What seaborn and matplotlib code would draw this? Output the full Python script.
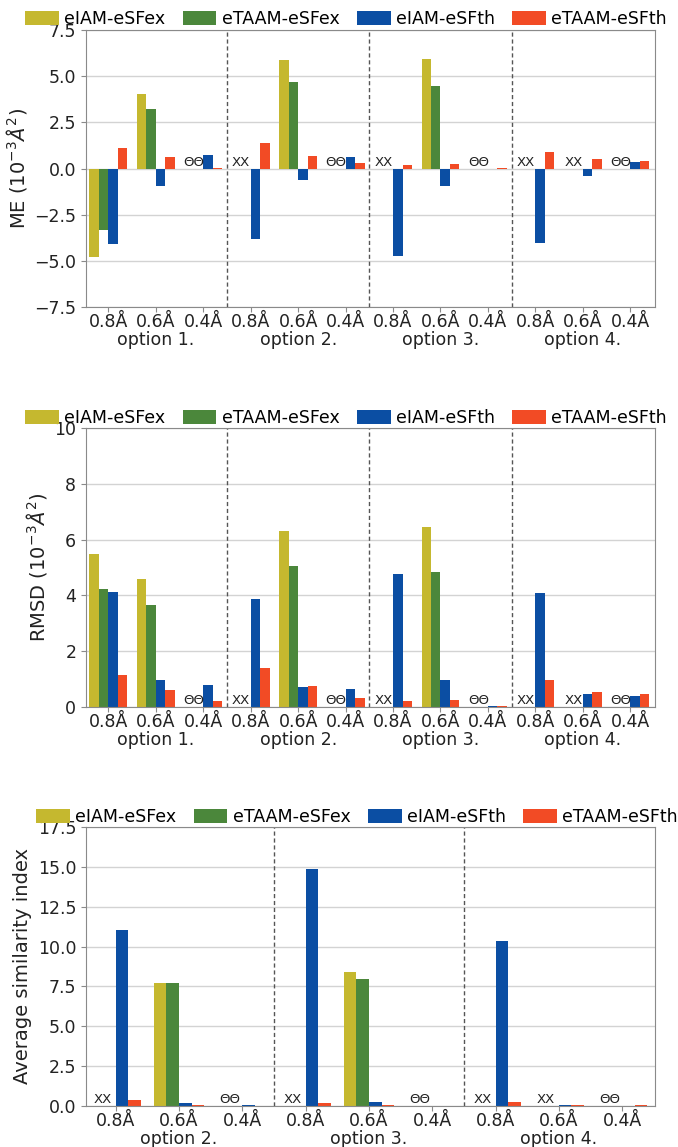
import numpy as np
import pandas as pd
import matplotlib
matplotlib.use("Agg")
import matplotlib.pyplot as plt
import seaborn as sns

# ---------------------------------------------------------------- data
series = ["eIAM-eSFex", "eTAAM-eSFex", "eIAM-eSFth", "eTAAM-eSFth"]
colors = ["#c5b82f", "#4b873b", "#0b4ea3", "#f24b25"]
resolutions = ["0.8Å", "0.6Å", "0.4Å"]
options_all = ["option 1.", "option 2.", "option 3.", "option 4."]
options_sim = ["option 2.", "option 3.", "option 4."]

nan = np.nan

# mean error, 10^-3 Å^2 ; order: option 1..4 x (0.8, 0.6, 0.4 Å)
me_iam_ex = [-4.78, 4.02, nan, nan, 5.87, nan, nan, 5.95, nan, nan, nan, nan]
me_taam_ex = [-3.33, 3.20, nan, nan, 4.67, nan, nan, 4.49, nan, nan, nan, nan]
me_iam_th = [-4.09, -0.96, 0.73, -3.80, -0.62, 0.64, -4.75, -0.96, 0.0, -4.05, -0.42, 0.36]
me_taam_th = [1.13, 0.60, 0.01, 1.36, 0.69, 0.29, 0.20, 0.22, 0.04, 0.91, 0.53, 0.42]

# root-mean-square deviation, 10^-3 Å^2
rmsd_iam_ex = [5.49, 4.58, nan, nan, 6.31, nan, nan, 6.44, nan, nan, nan, nan]
rmsd_taam_ex = [4.24, 3.65, nan, nan, 5.04, nan, nan, 4.84, nan, nan, nan, nan]
rmsd_iam_th = [4.12, 0.98, 0.78, 3.87, 0.71, 0.66, 4.76, 0.96, 0.02, 4.08, 0.47, 0.38]
rmsd_taam_th = [1.15, 0.62, 0.22, 1.40, 0.74, 0.31, 0.23, 0.26, 0.04, 0.95, 0.55, 0.46]

# average similarity index; order: option 2..4 x (0.8, 0.6, 0.4 Å)
asi_iam_ex = [nan, 7.69, nan, nan, 8.42, nan, nan, nan, nan]
asi_taam_ex = [nan, 7.69, nan, nan, 7.94, nan, nan, nan, nan]
asi_iam_th = [11.06, 0.21, 0.08, 14.88, 0.27, 0.0, 10.33, 0.04, 0.02]
asi_taam_th = [0.38, 0.08, 0.01, 0.21, 0.06, 0.0, 0.27, 0.04, 0.04]

# placeholders written where the experimental-SF bars are absent
marks_all = ["", "", "ΘΘ", "XX", "", "ΘΘ", "XX", "", "ΘΘ", "XX", "XX", "ΘΘ"]
marks_sim = ["XX", "", "ΘΘ", "XX", "", "ΘΘ", "XX", "XX", "ΘΘ"]

# ---------------------------------------------------------------- style
plt.rcParams["font.family"] = ["DejaVu Sans"]
plt.rcParams["axes.edgecolor"] = "#8a8a8a"
plt.rcParams["xtick.color"] = "#8a8a8a"
plt.rcParams["ytick.color"] = "#8a8a8a"
plt.rcParams["xtick.labelcolor"] = "#222222"
plt.rcParams["ytick.labelcolor"] = "#222222"

TICK_FS = 12.5
LEG_FS = 12.5
LAB_FS = 14

fig = plt.figure(figsize=(6.78, 11.47), dpi=100)


def frame(options, columns):
    rows = []
    for oi, opt in enumerate(options):
        for ri, res in enumerate(resolutions):
            g = oi * len(resolutions) + ri
            for name, col in zip(series, columns):
                v = col[g]
                if not np.isnan(v):
                    rows.append({"group": f"{opt}|{res}", "series": name, "value": v})
    order = [f"{o}|{r}" for o in options for r in resolutions]
    return pd.DataFrame(rows), order


def panel(rect, options, columns, marks, ylim, yticks, ylabel, leg_center):
    ax = fig.add_axes(rect)
    df, order = frame(options, columns)
    sns.barplot(data=df, x="group", y="value", hue="series", order=order,
                hue_order=series, palette=colors, saturation=1, width=0.8,
                errorbar=None, linewidth=0, ax=ax)
    n = len(order)
    ax.set_xlim(-0.47, n - 1 + 0.52)
    ax.set_ylim(*ylim)
    ax.set_yticks(yticks)
    ax.yaxis.grid(True, color="#d3d3d3", linewidth=1.0)
    ax.set_axisbelow(True)
    ax.tick_params(labelsize=TICK_FS, length=3.5)
    ax.tick_params(axis="x", pad=0.8)

    ax.set_xticks(range(n))
    ax.set_xticklabels([res for _ in options for res in resolutions],
                       fontsize=TICK_FS)
    ax.set_xlabel("")
    ax.set_ylabel(ylabel, fontsize=LAB_FS, color="#222222")

    # option names centred under the middle resolution of each block
    for oi, opt in enumerate(options):
        ax.annotate(opt, xy=(oi * 3 + 1, 0), xycoords=("data", "axes fraction"),
                    xytext=(0, -23.5), textcoords="offset points",
                    ha="center", va="center", fontsize=TICK_FS, color="#222222")

    for k in range(1, len(options)):
        ax.axvline(k * 3 - 0.5, color="#555555", linestyle=(0, (3, 2)), linewidth=1.0)

    for g, m in enumerate(marks):
        if m:
            ax.text(g - 0.2, 0, m, ha="center", va="bottom", fontsize=9.5,
                    color="#222222")

    handles, names = ax.get_legend_handles_labels()
    if ax.get_legend() is not None:
        ax.get_legend().remove()
    fig.legend(handles, names, loc="center", bbox_to_anchor=leg_center,
               bbox_transform=fig.transFigure, ncol=4, frameon=False,
               fontsize=LEG_FS, handlelength=1.95, handleheight=0.8,
               handletextpad=0.3, columnspacing=1.0, borderaxespad=0)
    return ax


W, H = 678, 1147


def rect(left, right, top, bottom):
    return [left / W, 1 - bottom / H, (right - left) / W, (bottom - top) / H]


panel(rect(86, 655, 30, 307), options_all,
      [me_iam_ex, me_taam_ex, me_iam_th, me_taam_th], marks_all,
      (-7.5, 7.5), np.arange(-7.5, 7.6, 2.5), r"ME ($10^{-3}Å^{2}$)",
      (346 / W, 1 - 19 / H))

panel(rect(86, 655, 428, 707), options_all,
      [rmsd_iam_ex, rmsd_taam_ex, rmsd_iam_th, rmsd_taam_th], marks_all,
      (0, 10), np.arange(0, 10.1, 2), r"RMSD ($10^{-3}Å^{2}$)",
      (346 / W, 1 - 418 / H))

panel(rect(86, 655, 827, 1106), options_sim,
      [asi_iam_ex, asi_taam_ex, asi_iam_th, asi_taam_th], marks_sim,
      (0, 17.5), np.arange(0, 17.6, 2.5), "Average similarity index",
      (357 / W, 1 - 817 / H))

fig.savefig("out.png", dpi=100)
